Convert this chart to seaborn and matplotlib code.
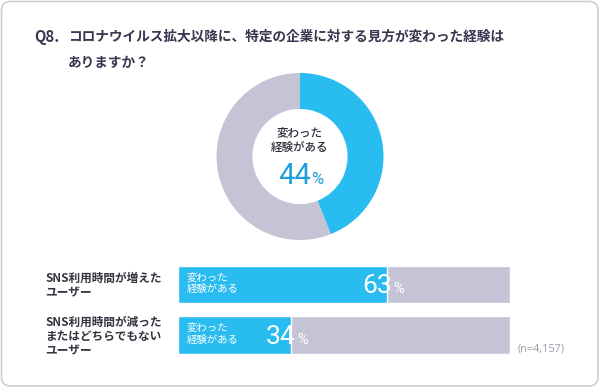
import matplotlib
matplotlib.use("Agg")
import matplotlib.pyplot as plt
from matplotlib.patches import FancyBboxPatch
import seaborn as sns
import pandas as pd

# ---------------- data ----------------
title_num = "Q8."
title_lines = ["コロナウイルス拡大以降に、特定の企業に対する見方が変わった経験は",
               "ありますか？"]
donut_labels = ["変わった経験がある", "その他"]
donut_values = [44, 56]
center_label = "変わった\n経験がある"

groups = ["SNS利用時間が増えた\nユーザー",
          "SNS利用時間が減った\nまたはどちらでもない\nユーザー"]
changed = [63, 34]
totals = [100, 100]
bar_inner_label = "変わった\n経験がある"
sample_note = "(n=4,157)"

BLUE = "#29BCF0"
GRAY = "#C5C4D6"
DARK = "#37374F"
PCT_BLUE = "#1E9FDB"
NUMFONT = ["Roboto", "DejaVu Sans"]

sns.set_theme(style="white")
plt.rcParams["font.family"] = ["Noto Sans CJK JP", "DejaVu Sans"]

W, H = 600, 389
fig = plt.figure(figsize=(W / 100, H / 100), dpi=100)
fig.patch.set_facecolor("white")

def fx(x):
    return x / W

def fy(y):
    return 1 - y / H

# ---------------- card background ----------------
bg = fig.add_axes([0, 0, 1, 1])
bg.set_xlim(0, W)
bg.set_ylim(H, 0)
bg.set_axis_off()
card = FancyBboxPatch((1.5, 1.5), W - 3.5, H - 4.5,
                      boxstyle="round,pad=0,rounding_size=9",
                      facecolor="white", edgecolor="#CFCFD4", linewidth=1.2)
bg.add_patch(card)

# ---------------- title ----------------
fig.text(fx(34), fy(37), title_num, fontsize=10.8, fontweight="bold",
         color=DARK, va="center", ha="left")
for i, line in enumerate(title_lines):
    fig.text(fx(68), fy(37 + 26 * i), line, fontsize=9.85, fontweight="bold",
             color=DARK, va="center", ha="left")

# ---------------- donut ----------------
cx, cy, r = 300, 156.5, 83.5
dax = fig.add_axes([fx(cx - r), fy(cy + r), 2 * r / W, 2 * r / H])
dax.pie(donut_values, colors=[BLUE, GRAY], startangle=90, counterclock=False,
        radius=1, wedgeprops=dict(width=0.43, edgecolor="none", linewidth=0))
dax.set_xlim(-1, 1)
dax.set_ylim(-1, 1)
dax.set_aspect("auto")
dax.set_axis_off()

fig.text(fx(cx), fy(140), center_label, fontsize=8.3, color="#2E2E3A",
         fontweight="medium", ha="center", va="center", linespacing=1.2)
fig.text(fx(311), fy(184), f"{donut_values[0]}", fontsize=21, color=PCT_BLUE,
         ha="right", va="baseline", family=NUMFONT)
fig.text(fx(311.5), fy(184), "%", fontsize=12, color=PCT_BLUE,
         ha="left", va="baseline", family=NUMFONT)

# ---------------- bars ----------------
df = pd.DataFrame({"group": groups, "changed": changed, "total": totals})
bx0, bx1 = 177.7, 510
c0, c1 = 284.2, 335.0
step = c1 - c0
top = c0 - step / 2
bot = c1 + step / 2
bax = fig.add_axes([fx(bx0), fy(bot), (bx1 - bx0) / W, (bot - top) / H])
sns.barplot(data=df, x="total", y="group", color=GRAY, saturation=1,
            width=0.73, errorbar=None, ax=bax)
sns.barplot(data=df, x="changed", y="group", color=BLUE, saturation=1,
            width=0.73, errorbar=None, ax=bax)
bax.set_xlim(0, 100)
bax.set_ylim(1.5, -0.5)
bax.set_axis_off()

ytr = bax.get_yaxis_transform()
lab_x = (45 - bx0) / (bx1 - bx0)
for i, (g, v) in enumerate(zip(groups, changed)):
    bax.text(lab_x, i + 0.03, g, transform=ytr, ha="left", va="center",
             fontsize=8.4, fontweight="bold", color="#333340", linespacing=1.12)
    bax.text(2.7, i - 0.02, bar_inner_label, ha="left", va="center",
             fontsize=7.5, color="white", linespacing=1.2)
    bax.text(v + 1.6, i + 0.18, f"{v}", ha="right", va="baseline",
             fontsize=19, color="white", family=NUMFONT)
    bax.text(v + 1.9, i + 0.18, "%", ha="left", va="baseline",
             fontsize=10.5, color="white", family=NUMFONT)

fig.text(fx(541), fy(349), sample_note, fontsize=7.8, color="#9A9AA6",
         ha="center", va="center", family=["Open Sans", "DejaVu Sans"])

fig.savefig("out.png", dpi=100, facecolor="white")
